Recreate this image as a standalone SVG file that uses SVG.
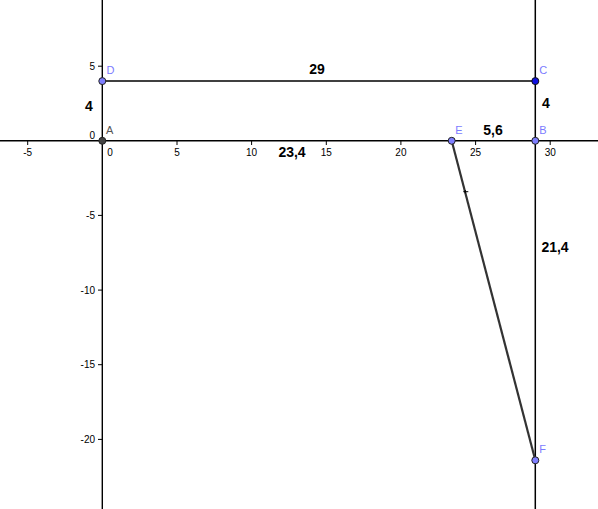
<svg xmlns="http://www.w3.org/2000/svg" width="598" height="509" viewBox="0 0 598 509">
<style>
.ax{stroke:#000;stroke-width:1.4;fill:none}
.tk{stroke:#000;stroke-width:1;fill:none}
.tl{font-family:"Liberation Sans",Arial,sans-serif;font-size:10px;fill:#000}
.ln{stroke:#000;stroke-width:1.5;fill:none}
.seg{stroke:#333;stroke-width:2.2;fill:none}
.pt{fill:#7f7fff;stroke:#222;stroke-width:1}
.ptc{fill:#1010e0;stroke:#111;stroke-width:1}
.pta{fill:#444;stroke:#222;stroke-width:1}
.pl{font-family:"Liberation Sans",Arial,sans-serif;font-size:11px;fill:#7b7bff}
.pla{font-family:"Liberation Sans",Arial,sans-serif;font-size:11px;fill:#555}
.lab{font-family:"Liberation Sans",Arial,sans-serif;font-size:14px;font-weight:bold;fill:#000;text-anchor:middle}
</style>
<rect width="598" height="509" fill="#fff"/>
<g id="axes">
<line class="ax" x1="0" y1="140.8" x2="598" y2="140.8"/>
<line class="ax" x1="102.3" y1="0" x2="102.3" y2="509"/>
<g class="tk">
<line x1="27.7" y1="140.8" x2="27.7" y2="145"/>
<line x1="177" y1="140.8" x2="177" y2="145"/>
<line x1="251.6" y1="140.8" x2="251.6" y2="145"/>
<line x1="326.3" y1="140.8" x2="326.3" y2="145"/>
<line x1="400.9" y1="140.8" x2="400.9" y2="145"/>
<line x1="475.6" y1="140.8" x2="475.6" y2="145"/>
<line x1="550.2" y1="140.8" x2="550.2" y2="145"/>
<line x1="98" y1="66.2" x2="102.3" y2="66.2"/>
<line x1="98" y1="215.4" x2="102.3" y2="215.4"/>
<line x1="98" y1="290.1" x2="102.3" y2="290.1"/>
<line x1="98" y1="364.7" x2="102.3" y2="364.7"/>
<line x1="98" y1="439.4" x2="102.3" y2="439.4"/>
</g>
<g class="tl" text-anchor="middle">
<text x="27.7" y="155.5">-5</text>
<text x="110" y="155.5">0</text>
<text x="177" y="155.5">5</text>
<text x="251.6" y="155.5">10</text>
<text x="326.3" y="155.5">15</text>
<text x="400.9" y="155.5">20</text>
<text x="475.6" y="155.5">25</text>
<text x="550.2" y="155.5">30</text>
</g>
<g class="tl" text-anchor="end">
<text x="95" y="70">5</text>
<text x="95" y="138.5">0</text>
<text x="95" y="219">-5</text>
<text x="95" y="293.7">-10</text>
<text x="95" y="368.3">-15</text>
<text x="95" y="443">-20</text>
</g>
</g>
<g id="connectors">
<line id="lineBC" class="ln" x1="535.3" y1="0" x2="535.3" y2="509"/>
<line id="segDC" class="ln" x1="102.3" y1="81.1" x2="535.3" y2="81.1"/>
<line id="segEF" class="seg" x1="451.7" y1="140.8" x2="535.3" y2="460.3"/>
<path d="M463.3 191.7 H468.3 M465.3 190 V193.5" stroke="#000" stroke-width="1" fill="none"/>
</g>
<g id="labels">
<text class="lab" x="89" y="110.5">4</text>
<text class="lab" x="317" y="74.3">29</text>
<text class="lab" x="292" y="157.3">23,4</text>
<text class="lab" x="493" y="135">5,6</text>
<text class="lab" x="546" y="108.3">4</text>
<text class="lab" x="555" y="251.5">21,4</text>
</g>
<g id="A"><circle class="pta" cx="102.3" cy="140.8" r="3.5"/><text class="pla" x="106" y="134.3">A</text></g>
<g id="D"><circle class="pt" cx="102.3" cy="81.1" r="3.5"/><text class="pl" x="106.5" y="74.3">D</text></g>
<g id="C"><circle class="ptc" cx="535.3" cy="81.1" r="3.5"/><text class="pl" x="539.3" y="74.3">C</text></g>
<g id="E"><circle class="pt" cx="451.7" cy="140.8" r="3.5"/><text class="pl" x="455.3" y="134.3">E</text></g>
<g id="B"><circle class="pt" cx="535.3" cy="140.8" r="3.5"/><text class="pl" x="539.3" y="134.3">B</text></g>
<g id="F"><circle class="pt" cx="535.3" cy="460.3" r="3.5"/><text class="pl" x="539.3" y="453.3">F</text></g>
</svg>
